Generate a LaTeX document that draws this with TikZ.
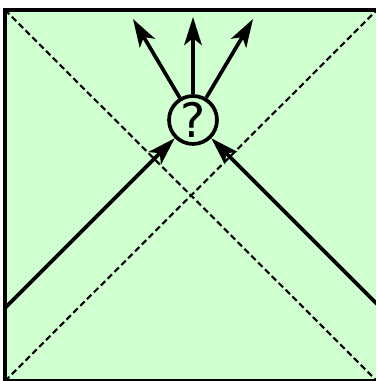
\documentclass[tikz,border=0pt]{standalone}
\usepackage{fontspec}
\setsansfont{DejaVu Sans}
\usetikzlibrary{arrows.meta}
\definecolor{boxgreen}{RGB}{208,255,208}

\begin{document}
\begin{tikzpicture}[x=0.02cm,y=-0.02cm,>={Stealth[length=16pt,width=10pt,inset=4pt]},
    line width=2.1pt, every node/.style={font=\sffamily}]
        \useasboundingbox (0,0) rectangle (375,381);
        \draw[fill=boxgreen] (5,10) rectangle (379,381);
        \draw[dashed,line width=1.2pt,dash pattern=on 3.5pt off 2pt] (5,10) -- (377,381);
        \draw[dashed,line width=1.2pt,dash pattern=on 3.5pt off 2pt] (5,381) -- (377,10);
        \node[draw,circle,minimum size=0.96cm,inner sep=0pt,fill=boxgreen,font=\sffamily\fontsize{27}{27}\selectfont] (q) at (193,120) {?};
        \coordinate (inl) at (5,308);
        \coordinate (inr) at (377,304);
        \coordinate (outl) at (133,19);
        \coordinate (outm) at (193,17);
        \coordinate (outr) at (253,19);
        \draw[->] (inl) -- (q);
        \draw[->] (inr) -- (q);
        \draw[->] (q) -- (outl);
        \draw[->] (q) -- (outm);
        \draw[->] (q) -- (outr);
      \end{tikzpicture}
\end{document}
